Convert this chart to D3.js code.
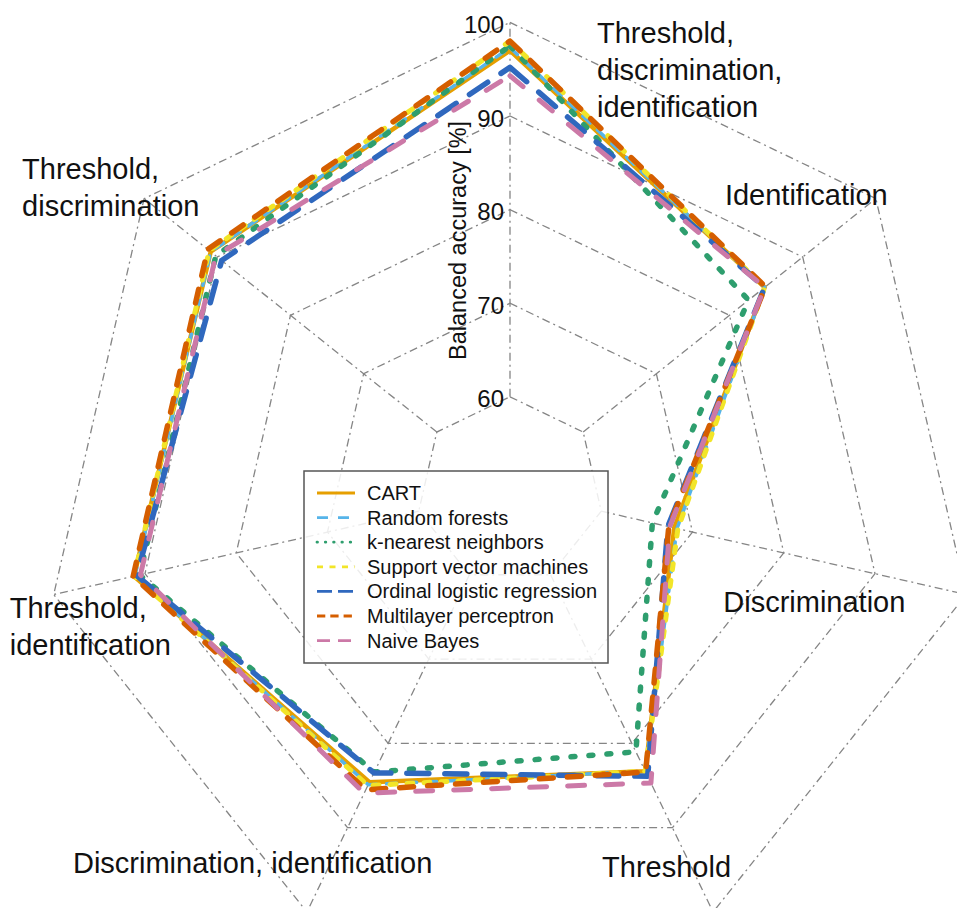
<!DOCTYPE html>
<html lang="en">
<head>
<meta charset="UTF-8">
<title>Balanced accuracy radar</title>
<script src="https://cdn.jsdelivr.net/npm/d3@7"></script>
<style>
  body { margin: 0; background: #fff; }
  svg { display: block; font-family: "Liberation Sans", Arial, Helvetica, sans-serif; }
  .grid { fill: none; stroke: #858585; stroke-width: 1.3; stroke-dasharray: 8,4,2,4; }
  .series { fill: none; stroke-linecap: round; stroke-linejoin: round; }
</style>
</head>
<body>
<svg id="chart" width="957" height="908"></svg>
<script>
  // axes, clockwise from the top
  const categories = [
    "Threshold,\ndiscrimination,\nidentification",
    "Identification",
    "Discrimination",
    "Threshold",
    "Discrimination, identification",
    "Threshold,\nidentification",
    "Threshold,\ndiscrimination"
  ];
  const tickValues = [60, 70, 80, 90, 100];
  const axisTitle = "Balanced accuracy [%]";

  const seriesNames = ["CART", "Random forests", "k-nearest neighbors", "Support vector machines",
    "Ordinal logistic regression", "Multilayer perceptron", "Naive Bayes"];

  // balanced accuracy [%] per axis (same order as categories)
  const cart = [97.0, 84.8, 68.0, 83.3, 84.6, 91.2, 90.9];
  const randomForests = [97.3, 84.8, 68.3, 83.3, 84.9, 91.1, 90.9];
  const knn = [97.5, 82.6, 65.6, 81.0, 83.4, 90.6, 90.2];
  const svm = [98.0, 84.8, 68.4, 83.3, 85.0, 91.2, 91.1];
  const ordinalLogistic = [95.2, 84.8, 67.3, 83.9, 83.5, 90.9, 89.4];
  const mlp = [98.0, 84.9, 67.4, 83.4, 85.5, 91.3, 91.3];
  const naiveBayes = [94.3, 84.8, 67.5, 84.7, 85.9, 90.5, 90.2];
  const seriesValues = [cart, randomForests, knn, svm, ordinalLogistic, mlp, naiveBayes];

  // line styles: colour, width, dash (plot), dash (legend)
  const styles = [
    { color: "#E69F00", width: 4.5, dash: null, legendDash: null },
    { color: "#56B4E9", width: 3.5, dash: "10,10", legendDash: "11,10" },
    { color: "#2E9E6E", width: 5.5, dash: "4,14", legendDash: "0.5,7.8" },
    { color: "#F2E528", width: 5, dash: "6,11", legendDash: "6,6.5" },
    { color: "#2F68BE", width: 5.5, dash: "22,16", legendDash: "15,6" },
    { color: "#D55E00", width: 5.5, dash: "14,14", legendDash: "8.3,5" },
    { color: "#CC79A7", width: 5, dash: "17,21", legendDash: "13,8" }
  ];

  // label offsets relative to the 100 % vertex of each axis
  const labelOffsets = [[87, 21], [-151, 6], [-243, 17], [-111, -35], [-234, -39], [-44, 23], [-122, -20]];

  const cx = 510, cy = 490.4;
  const svg = d3.select("#chart");

  const rScale = d3.scaleLinear().domain([50, 100]).range([0, 468]);
  const angle = i => i * 2 * Math.PI / categories.length;

  const g = svg.append("g").attr("transform", `translate(${cx},${cy})`);

  const radialLine = d3.lineRadial()
    .angle((d, i) => angle(i))
    .radius(d => rScale(d))
    .curve(d3.curveLinearClosed);

  // grid rings
  g.selectAll(".ring")
    .data(tickValues)
    .join("path")
    .attr("class", "grid ring")
    .attr("d", v => radialLine(categories.map(() => v)));

  // spokes from the inner ring out to 100
  g.selectAll(".spoke")
    .data(categories)
    .join("line")
    .attr("class", "grid spoke")
    .attr("x1", (d, i) => d3.pointRadial(angle(i), rScale(tickValues[0]))[0])
    .attr("y1", (d, i) => d3.pointRadial(angle(i), rScale(tickValues[0]))[1])
    .attr("x2", (d, i) => d3.pointRadial(angle(i), rScale(100))[0])
    .attr("y2", (d, i) => d3.pointRadial(angle(i), rScale(100))[1]);

  // series
  g.selectAll(".series")
    .data(seriesValues)
    .join("path")
    .attr("class", "series")
    .attr("d", d => radialLine(d))
    .attr("stroke", (d, i) => styles[i].color)
    .attr("stroke-width", (d, i) => styles[i].width)
    .attr("stroke-dasharray", (d, i) => styles[i].dash);

  // radial tick labels
  g.selectAll(".tick-label")
    .data(tickValues)
    .join("text")
    .attr("class", "tick-label")
    .attr("x", -6)
    .attr("y", v => -rScale(v) + 2)
    .attr("text-anchor", "end")
    .attr("dominant-baseline", "central")
    .attr("font-size", 24)
    .attr("fill", "#111")
    .text(d => d);

  g.append("text")
    .attr("transform", "translate(-44,-250) rotate(-90)")
    .attr("text-anchor", "middle")
    .attr("font-size", 23.5)
    .attr("fill", "#111")
    .text(axisTitle);

  // category labels
  const labels = g.selectAll(".cat-label")
    .data(categories)
    .join("text")
    .attr("class", "cat-label")
    .attr("font-size", 29)
    .attr("fill", "#111")
    .attr("transform", (d, i) => {
      const p = d3.pointRadial(angle(i), rScale(100));
      return `translate(${p[0] + labelOffsets[i][0]},${p[1] + labelOffsets[i][1]})`;
    });
  labels.selectAll("tspan")
    .data(d => d.split("\n"))
    .join("tspan")
    .attr("x", 0)
    .attr("y", (d, i) => i * 37)
    .text(d => d);

  // legend
  const legend = svg.append("g").attr("transform", "translate(304,471)");
  legend.append("rect")
    .attr("width", 304)
    .attr("height", 192)
    .attr("fill", "#fff")
    .attr("fill-opacity", 0.85)
    .attr("stroke", "#555")
    .attr("stroke-width", 1.5);

  const item = legend.selectAll(".item")
    .data(seriesNames)
    .join("g")
    .attr("class", "item")
    .attr("transform", (d, i) => `translate(0,${22 + i * 24.6})`);
  item.append("line")
    .attr("x1", 13).attr("x2", 51)
    .attr("stroke", (d, i) => styles[i].color)
    .attr("stroke-width", 2.8)
    .attr("stroke-linecap", (d, i) => i === 2 ? "round" : "butt")
    .attr("stroke-dasharray", (d, i) => styles[i].legendDash);
  item.append("text")
    .attr("x", 63)
    .attr("dominant-baseline", "central")
    .attr("font-size", 20)
    .attr("fill", "#111")
    .text(d => d);
</script>
</body>
</html>
